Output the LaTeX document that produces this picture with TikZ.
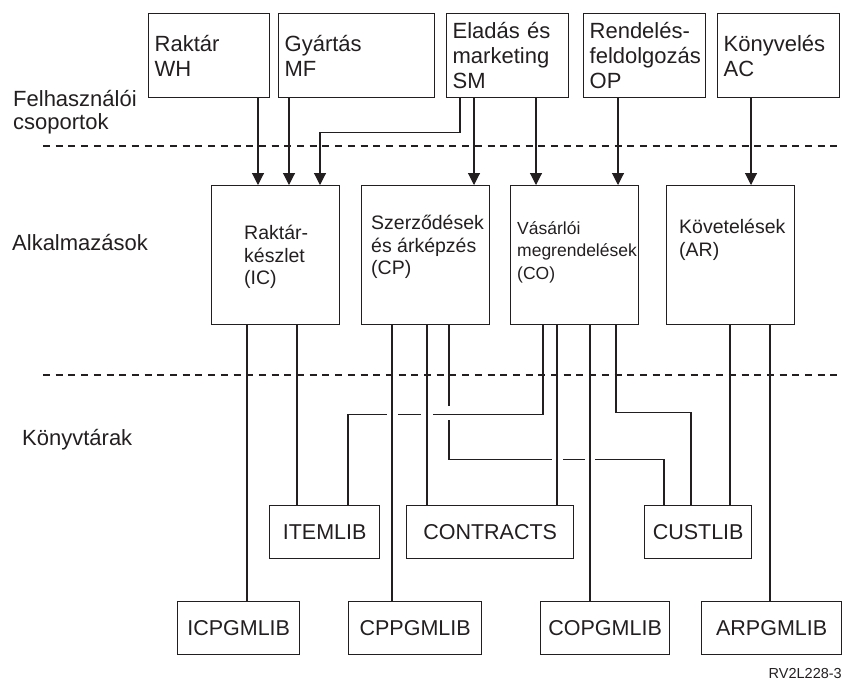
\documentclass[tikz,border=0pt]{standalone}
\usepackage{fontspec}
\setmainfont{Liberation Sans}
\usetikzlibrary{arrows.meta,positioning}
\definecolor{ink}{RGB}{35,31,32}

\begin{document}
\begin{tikzpicture}[x=1pt,y=-1pt,
    box/.style={draw=ink,line width=1.3pt,rectangle,anchor=north west,inner sep=0pt,text=ink},
    groupbox/.style={box,minimum height=84pt,align=left,inner xsep=6pt,font=\fontsize{22}{25}\selectfont},
    appbox/.style={box,minimum width=128pt,minimum height=139pt},
    apptext/.style={inner sep=0pt,align=left,text=ink,font=\fontsize{19.5}{22.5}\selectfont},
    libbox/.style={box,minimum height=53pt,font=\fontsize{21.5}{24}\selectfont},
    sidetext/.style={inner sep=0pt,text=ink,font=\fontsize{22}{23}\selectfont},
    sep/.style={draw=ink,line width=1.6pt,dash pattern=on 7pt off 5.7pt},
    wire/.style={draw=ink,line width=1.1pt},
    arr/.style={wire,-{Triangle[length=12pt,width=12pt]}},
    gap/.style={draw=white,line width=3.5pt}]
  \useasboundingbox (0,0) rectangle (844,681);

  % user groups
  \node[groupbox,text width=109pt] (wh) at (148,13) {Raktár\\WH};
  \node[groupbox,text width=144pt] (mf) at (278,13) {Gyártás\\MF};
  \node[groupbox,text width=110pt] (sm) at (446,13) {Eladás és\\marketing\\SM};
  \node[groupbox,text width=110pt] (op) at (583,13) {Rendelés-\\feldolgozás\\OP};
  \node[groupbox,text width=110pt] (ac) at (717,13) {Könyvelés\\AC};

  \node[sidetext,align=left,anchor=north west] (groups) at (13,90) {Felhasználói\\csoportok};
  \node[sidetext,anchor=base west] (apps) at (12,250) {Alkalmazások};
  \node[sidetext,anchor=base west] (libs) at (22,445) {Könyvtárak};

  \draw[sep] (43,146) -- (838,146);
  \draw[sep] (43,375) -- (838,375);

  % applications
  \node[appbox] (ic) at (211,185) {};
  \node[appbox] (cp) at (361,185) {};
  \node[appbox] (co) at (510,185) {};
  \node[appbox] (ar) at (666,185) {};
  \node[apptext,below right=40pt and 33pt of ic.north west] (ictext) {Raktár-\\készlet\\(IC)};
  \node[apptext,below right=30pt and 10pt of cp.north west] (cptext) {Szerződések\\és árképzés\\(CP)};
  \node[apptext,font=\fontsize{17.5}{22.5}\selectfont,below right=36pt and 7pt of co.north west] (cotext) {Vásárlói\\megrendelések\\(CO)};
  \node[apptext,below right=34pt and 13pt of ar.north west] (artext) {Követelések\\(AR)};

  % libraries
  \node[libbox,minimum width=110pt] (itemlib) at (269,505) {ITEMLIB};
  \node[libbox,minimum width=167pt] (contracts) at (406,505) {CONTRACTS};
  \node[libbox,minimum width=107pt] (custlib) at (644,505) {CUSTLIB};
  \node[libbox,minimum width=122pt] (icpgmlib) at (177,601) {ICPGMLIB};
  \node[libbox,minimum width=133pt] (cppgmlib) at (348,601) {CPPGMLIB};
  \node[libbox,minimum width=129pt] (copgmlib) at (540,601) {COPGMLIB};
  \node[libbox,minimum width=140pt] (arpgmlib) at (701,601) {ARPGMLIB};

  \node[inner sep=0pt,text=ink,font=\fontsize{14.5}{16}\selectfont,anchor=base east] (figid) at (842,678) {RV2L228-3};

  % groups -> applications
  \draw[arr] ([xshift=110]wh.south west) -- ([xshift=110]wh.south west |- ic.north);
  \draw[arr] ([xshift=11]mf.south west) -- ([xshift=11]mf.south west |- ic.north);
  \draw[arr] ([xshift=14]sm.south west) -- ++(0,34) -| ([xshift=109]ic.north west);
  \draw[arr] ([xshift=28]sm.south west) -- ([xshift=28]sm.south west |- cp.north);
  \draw[arr] ([xshift=90]sm.south west) -- ([xshift=90]sm.south west |- co.north);
  \draw[arr] ([xshift=35]op.south west) -- ([xshift=35]op.south west |- co.north);
  \draw[arr] ([xshift=34]ac.south west) -- ([xshift=34]ac.south west |- ar.north);

  % applications -> libraries
  \draw[wire] ([xshift=88]cp.south west) -- ++(0,134) -| ([xshift=20]custlib.north west);
  \draw[gap] (449,406) -- (449,420);
  \draw[gap] (551.5,458) -- (562.5,458);
  \draw[gap] (584.5,458) -- (595,458);
  \draw[wire] ([xshift=33]co.south west) -- ++(0,89) -| ([xshift=79]itemlib.north west);
  \draw[gap] (386.5,413) -- (398,413);
  \draw[gap] (421,413) -- (433,413);
  \draw[wire] ([xshift=106]co.south west) -- ++(0,87) -| ([xshift=47]custlib.north west);

  \draw[wire] ([xshift=36]ic.south west) -- ([xshift=36]ic.south west |- icpgmlib.north);
  \draw[wire] ([xshift=86]ic.south west) -- ([xshift=86]ic.south west |- itemlib.north);
  \draw[wire] ([xshift=31]cp.south west) -- ([xshift=31]cp.south west |- cppgmlib.north);
  \draw[wire] ([xshift=66]cp.south west) -- ([xshift=66]cp.south west |- contracts.north);
  \draw[wire] ([xshift=47]co.south west) -- ([xshift=47]co.south west |- contracts.north);
  \draw[wire] ([xshift=80]co.south west) -- ([xshift=80]co.south west |- copgmlib.north);
  \draw[wire] ([xshift=64]ar.south west) -- ([xshift=64]ar.south west |- custlib.north);
  \draw[wire] ([xshift=104]ar.south west) -- ([xshift=104]ar.south west |- arpgmlib.north);
\end{tikzpicture}
\end{document}
